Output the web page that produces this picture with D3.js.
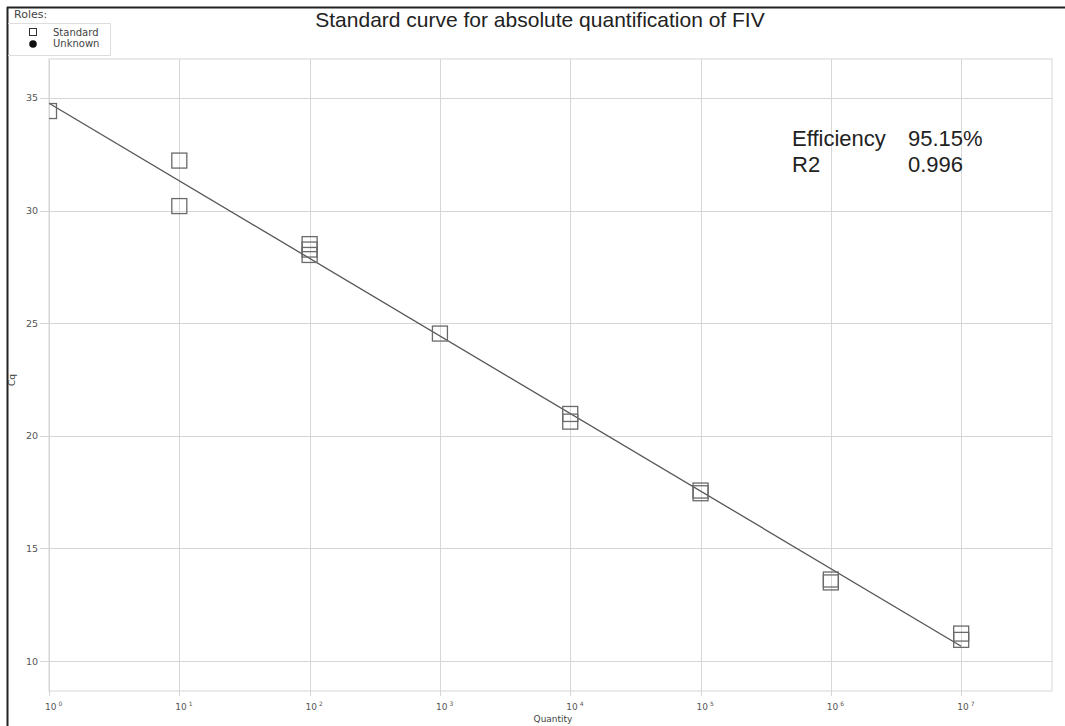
<!DOCTYPE html>
<html>
<head>
<meta charset="utf-8">
<script src="https://cdn.jsdelivr.net/npm/d3@7"></script>
<style>
  html, body { margin: 0; padding: 0; background: #fff; }
  svg { display: block; }
  text { font-family: "Liberation Sans", Arial, sans-serif; }
  .small { font-family: "DejaVu Sans", Verdana, sans-serif; }
</style>
</head>
<body>
<svg id="chart" width="1065" height="726"></svg>
<script>
// Standard dilution series: template quantity and measured Cq for each replicate
const quantities = [1, 10, 10, 100, 100, 100, 1000, 1e4, 1e4, 1e5, 1e5, 1e6, 1e6, 1e7, 1e7];
const cqValues   = [34.42, 32.22, 30.20, 28.51, 28.27, 28.03, 24.54, 20.97, 20.63, 17.57, 17.45, 13.62, 13.49, 11.22, 10.94];

// Reported fit statistics
const efficiencyPct = 95.15;
const rSquared = 0.996;

// Axis ticks
const yTicks = [10, 15, 20, 25, 30, 35];
const xTickExponents = [0, 1, 2, 3, 4, 5, 6, 7];

const legendRoles = ["Standard", "Unknown"];

const svg = d3.select("#chart");
const W = 1065, H = 726;
const plot = { left: 49, right: 1052, top: 59, bottom: 691 };

// Log-scaled quantity axis and linear Cq axis
const x = d3.scaleLog().domain([1, Math.pow(10, 7.697)]).range([plot.left, plot.right]);
const y = d3.scaleLinear().domain([8.67, 36.73]).range([plot.bottom, plot.top]);

// Outer frame (top and left edges)
svg.append("line").attr("x1", 7).attr("x2", W).attr("y1", 7.5).attr("y2", 7.5)
  .attr("stroke", "#222").attr("stroke-width", 2);
svg.append("line").attr("x1", 7.5).attr("x2", 7.5).attr("y1", 7).attr("y2", H)
  .attr("stroke", "#222").attr("stroke-width", 2);

// Plot boundary
svg.append("rect")
  .attr("x", plot.left).attr("y", plot.top)
  .attr("width", plot.right - plot.left).attr("height", plot.bottom - plot.top)
  .attr("fill", "none").attr("stroke", "#d6d6d6").attr("stroke-width", 1);

// Gridlines
const xTickVals = xTickExponents.map(e => Math.pow(10, e));
svg.append("g").selectAll("line").data(xTickVals).join("line")
  .attr("x1", d => Math.round(x(d)) + 0.5).attr("x2", d => Math.round(x(d)) + 0.5)
  .attr("y1", plot.top).attr("y2", plot.bottom + 5)
  .attr("stroke", "#d6d6d6").attr("stroke-width", 1);
svg.append("g").selectAll("line").data(yTicks).join("line")
  .attr("x1", plot.left - 9).attr("x2", plot.right)
  .attr("y1", d => Math.round(y(d)) + 0.5).attr("y2", d => Math.round(y(d)) + 0.5)
  .attr("stroke", "#d6d6d6").attr("stroke-width", 1);

// Y tick labels
svg.append("g").attr("class", "small").selectAll("text").data(yTicks).join("text")
  .attr("class", "small")
  .attr("x", 38).attr("y", d => y(d) + 3.5)
  .attr("text-anchor", "end").attr("font-size", 9.5).attr("fill", "#555")
  .text(d => d);

// X tick labels: 10 with superscript exponent
const xl = svg.append("g").selectAll("text").data(xTickExponents).join("text")
  .attr("class", "small")
  .attr("x", d => x(Math.pow(10, d)) - 4).attr("y", 710)
  .attr("font-size", 9).attr("fill", "#555");
xl.append("tspan").text("10");
xl.append("tspan").attr("dx", 2).attr("dy", -4).attr("font-size", 6).text(d => d);

// Axis titles
svg.append("text").attr("class", "small").attr("x", 553).attr("y", 722)
  .attr("text-anchor", "middle").attr("font-size", 9).attr("fill", "#444").text("Quantity");
svg.append("text").attr("class", "small").attr("transform", "translate(15,380) rotate(-90)")
  .attr("text-anchor", "middle").attr("font-size", 9).attr("fill", "#444").text("Cq");

// Title
svg.append("text").attr("x", 540).attr("y", 27)
  .attr("text-anchor", "middle").attr("font-size", 21).attr("fill", "#222")
  .text("Standard curve for absolute quantification of FIV");

// Regression line: slope from the reported efficiency, passing through the data centroid
const logQ = quantities.map(q => Math.log10(q));
const slope = -1 / Math.log10(1 + efficiencyPct / 100);
const intercept = d3.mean(cqValues) - slope * d3.mean(logQ);
const [lo, hi] = d3.extent(logQ);
const fitPts = [lo, hi].map(l => [Math.pow(10, l), intercept + slope * l]);

svg.append("clipPath").attr("id", "plotclip").append("rect")
  .attr("x", plot.left).attr("y", plot.top)
  .attr("width", plot.right - plot.left).attr("height", plot.bottom - plot.top);

svg.append("path")
  .datum(fitPts)
  .attr("d", d3.line().x(d => x(d[0])).y(d => y(d[1])))
  .attr("stroke", "#555").attr("stroke-width", 1.3).attr("fill", "none");

// Standard points as open squares
const S = 15;
svg.append("g").attr("clip-path", "url(#plotclip)")
  .selectAll("rect").data(quantities.map((q, i) => [q, cqValues[i]])).join("rect")
  .attr("x", d => x(d[0]) - S / 2).attr("y", d => y(d[1]) - S / 2)
  .attr("width", S).attr("height", S)
  .attr("fill", "none").attr("stroke", "#6a6a6a").attr("stroke-width", 1.3);

// Fit statistics
const stats = svg.append("g").attr("font-size", 22).attr("fill", "#222");
stats.append("text").attr("x", 792).attr("y", 146).text("Efficiency");
stats.append("text").attr("x", 908).attr("y", 146).text(efficiencyPct.toFixed(2) + "%");
stats.append("text").attr("x", 792).attr("y", 172).text("R2");
stats.append("text").attr("x", 908).attr("y", 172).text(rSquared.toFixed(3));

// Roles legend
const lg = svg.append("g");
lg.append("text").attr("class", "small").attr("x", 14).attr("y", 18).attr("font-size", 11).attr("fill", "#444").text("Roles:");
lg.append("path").attr("d", "M8,23.5H110.5V55.5H8")
  .attr("fill", "none").attr("stroke", "#ddd").attr("stroke-width", 1);
lg.selectAll("text.item").data(legendRoles).join("text")
  .attr("class", "item small")
  .attr("x", 53).attr("y", (d, i) => 36 + i * 11)
  .attr("font-size", 10).attr("fill", "#444").text(d => d);
lg.append("rect").attr("x", 29.5).attr("y", 28.5).attr("width", 7).attr("height", 7)
  .attr("fill", "none").attr("stroke", "#333").attr("stroke-width", 1);
lg.append("circle").attr("cx", 33).attr("cy", 44).attr("r", 3.8).attr("fill", "#111");
</script>
</body>
</html>
